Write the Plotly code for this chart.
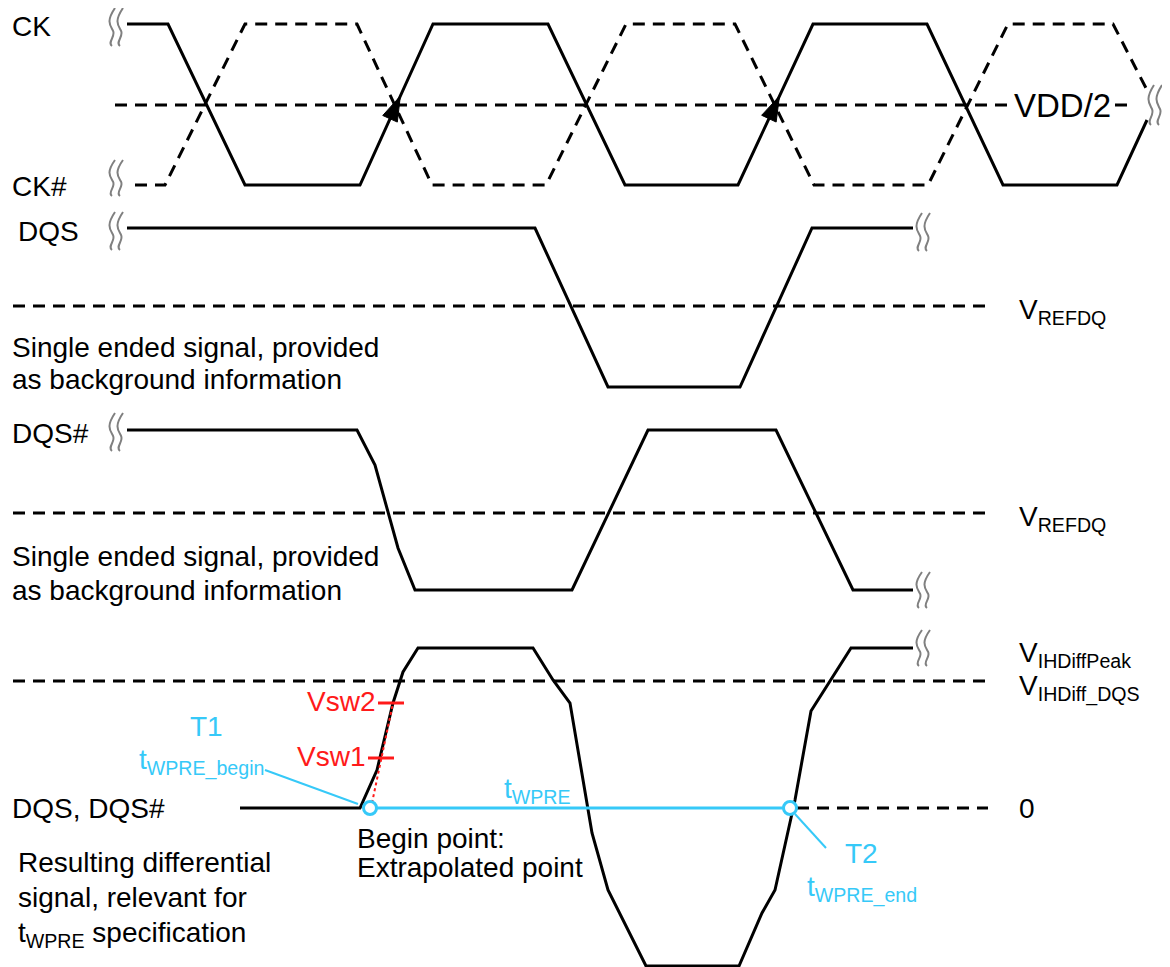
import plotly.graph_objects as go

# waveform vertices (x in px along time, y in px, top = 0)
ck_x = [127, 168, 245, 360, 433, 548, 625, 738, 813, 927, 1003, 1117, 1147]
ck_y = [24, 24, 185, 185, 24, 24, 185, 185, 24, 24, 185, 185, 120]
ckb_x = [135, 165, 245, 357, 432, 546, 626, 735, 814, 928, 1008, 1113, 1147]
ckb_y = [185, 185, 24, 24, 185, 185, 24, 24, 185, 185, 24, 24, 90]

dqs_x = [127, 535, 608, 740, 812, 913]
dqs_y = [228, 228, 387, 387, 228, 228]
dqsb_x = [127, 357, 375, 398, 415, 572, 648, 776, 853, 913]
dqsb_y = [430, 430, 465, 548, 590, 590, 430, 430, 590, 590]

diff_x = [240, 360, 377, 393, 403, 418, 533, 553, 570, 592, 608, 646,
          739, 762, 775, 795, 811, 851, 913]
diff_y = [808, 808, 770, 703, 672, 648, 648, 680, 703, 833, 890, 966,
          966, 913, 890, 800, 711, 648, 648]

# reference levels
vdd2_y = 105
vref1_y = 306
vref2_y = 513
vih_y = 681
zero_y = 808

t1_x = 370
t2_x = 790
vsw_y = [758, 703]
vsw_x = [381, 391]
vsw_names = ["Vsw1", "Vsw2"]

# CK rising edges that carry an arrow (index of the low corner in ck_x)
arrow_edges = [3, 7]
arrow_tip_y = 96

BLUE = "#36C9F8"
RED = "#FF1A1A"
FONT = "Liberation Sans, Arial, sans-serif"
DASH = "12px,8px"

fig = go.Figure()


def line(x, y, color="black", width=3, dash="solid"):
    fig.add_trace(go.Scatter(x=x, y=y, mode="lines", hoverinfo="skip", cliponaxis=False,
                             line=dict(color=color, width=width, dash=dash)))


def text(x, y, s, size=28, color="black", xanchor="left", **kw):
    fig.add_annotation(x=x, y=y, text=s, showarrow=False, xanchor=xanchor,
                       yanchor="middle", font=dict(family=FONT, size=size, color=color), **kw)


# reference dashed lines
line([115, 1135], [vdd2_y, vdd2_y], dash=DASH)
line([13, 988], [vref1_y, vref1_y], dash=DASH)
line([13, 988], [vref2_y, vref2_y], dash=DASH)
line([13, 988], [vih_y, vih_y], dash=DASH)
line([797, 988], [zero_y, zero_y], dash=DASH)

# waveforms
line(ckb_x, ckb_y, dash=DASH)
line(ck_x, ck_y)
line(dqs_x, dqs_y)
line(dqsb_x, dqsb_y)
line(diff_x, diff_y)

# extrapolation through Vsw1 / Vsw2
line([372, 393], [803, 703], color=RED, width=2, dash="dot")
for vx, vy in zip(vsw_x, vsw_y):
    line([vx - 13, vx + 13], [vy, vy], color=RED, width=3)

# tWPRE span and markers
line([t1_x, t2_x], [zero_y, zero_y], color=BLUE, width=3)
line([265, 358], [770, 804], color=BLUE, width=2)
line([795, 826], [814, 848], color=BLUE, width=2)
fig.add_trace(go.Scatter(x=[t1_x, t2_x], y=[zero_y, zero_y], mode="markers", hoverinfo="skip",
                         cliponaxis=False,
                         marker=dict(size=13, color="white", line=dict(color=BLUE, width=3))))

# filled arrowheads sitting on the CK rising edges
for i in arrow_edges:
    x0, y0, x1, y1 = ck_x[i], ck_y[i], ck_x[i + 1], ck_y[i + 1]
    L = ((x1 - x0) ** 2 + (y1 - y0) ** 2) ** 0.5
    ux, uy = (x1 - x0) / L, (y1 - y0) / L
    tx = x0 + (arrow_tip_y - y0) / (y1 - y0) * (x1 - x0)
    ty = arrow_tip_y
    bx, by = tx - 25 * ux, ty - 25 * uy
    px, py = -uy * 8, ux * 8
    fig.add_shape(type="path", xref="x", yref="y",
                  path=f"M {tx},{ty} L {bx+px},{by+py} L {bx-px},{by-py} Z",
                  fillcolor="black", line=dict(color="black", width=1))

# break marks
breaks = [(117, 8, 46), (117, 160, 196), (117, 212, 250), (117, 413, 451),
          (1156, 85, 125), (924, 213, 251), (924, 572, 608), (924, 630, 666)]
for bx, y0, y1 in breaks:
    h = y1 - y0
    for dx in (-4, 4):
        cx = bx + dx
        fig.add_shape(type="path", xref="x", yref="y",
                      path=f"M {cx+2},{y0} C {cx-7},{y0+h*0.35} {cx-3},{y0+h*0.45} {cx},{y0+h*0.6} "
                           f"S {cx-6},{y1-h*0.1} {cx-1},{y1}",
                      line=dict(color="#808080", width=2))

# labels
text(10, 26, "CK")
text(10, 186, "CK#")
text(16, 231, "DQS")
text(10, 347, "Single ended signal, provided")
text(10, 379, "as background information")
text(10, 433, "DQS#")
text(10, 556, "Single ended signal, provided")
text(10, 590, "as background information")
text(10, 808, "DQS, DQS#")
text(16, 862, "Resulting differential")
text(16, 897, "signal, relevant for")
text(16, 934, "t<sub>WPRE</sub> specification")
text(355, 838, "Begin point:")
text(355, 867, "Extrapolated point")

text(1013, vdd2_y, "VDD/2", size=33, bgcolor="white", borderpad=0)
text(1017, vref1_y + 5, "V<sub>REFDQ</sub>")
text(1017, vref2_y + 5, "V<sub>REFDQ</sub>")
text(1017, 654, "V<sub>IHDiffPeak</sub>")
text(1017, 688, "V<sub>IHDiff_DQS</sub>")
text(1017, zero_y, "0")

for vx, vy, name in zip(vsw_x, vsw_y, vsw_names):
    text(vx - 14, vy - 2, name, color=RED, xanchor="right")

text(206, 726, "T1", color=BLUE, xanchor="center")
text(201, 762, "t<sub>WPRE_begin</sub>", color=BLUE, xanchor="center")
text(537, 790, "t<sub>WPRE</sub>", color=BLUE, xanchor="center")
text(861, 853, "T2", color=BLUE, xanchor="center")
text(862, 889, "t<sub>WPRE_end</sub>", color=BLUE, xanchor="center")

# the page body keeps its 8px default margin, so the figure starts at (8, 8)
fig.update_layout(
    width=1162, height=959,
    margin=dict(l=0, r=0, t=0, b=0),
    paper_bgcolor="white", plot_bgcolor="white",
    showlegend=False,
    xaxis=dict(range=[8, 1170], visible=False, fixedrange=True),
    yaxis=dict(range=[967, 8], visible=False, fixedrange=True),
)

fig.write_html("out.html")
